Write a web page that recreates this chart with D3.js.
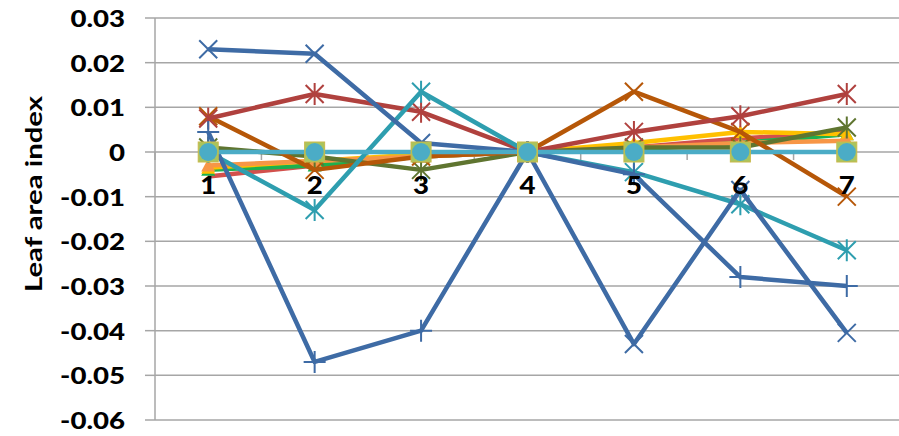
<!DOCTYPE html>
<html><head><meta charset="utf-8">
<script src="https://cdn.jsdelivr.net/npm/d3@7"></script>
<style>
body{margin:0;background:#fff;}
text{font-family:"Lato","Liberation Sans",sans-serif;font-weight:bold;fill:#000;}
</style></head>
<body><svg id="chart" width="899" height="436"></svg>
<script>
const categories = ["1","2","3","4","5","6","7"];
const yTicks = [0.03,0.02,0.01,0,-0.01,-0.02,-0.03,-0.04,-0.05,-0.06];
const yTickLabels = ["0.03","0.02","0.01","0","-0.01","-0.02","-0.03","-0.04","-0.05","-0.06"];
const yTitle = "Leaf area index";

const sRed2   = [-0.0055,-0.003,-0.001,0,0.001,0.003,0.0045];
const sGreen  = [-0.004,-0.003,-0.001,0,0.0005,0.002,0.004];
const sYellow = [-0.0035,-0.002,-0.0005,0,0.002,0.0045,0.004];
const sOrange = [-0.003,-0.002,-0.001,0,0.001,0.002,0.0025];
const sOlive  = [0.001,-0.001,-0.004,0,0.001,0.001,0.0055];
const sBrown  = [0.008,-0.004,-0.001,0,0.0135,0.0045,-0.010];
const sRed    = [0.0075,0.013,0.009,0,0.0045,0.008,0.013];
const sTeal   = [0.0,-0.013,0.0135,0,-0.0045,-0.0117,-0.022];
const sBluePlus = [0.0045,-0.047,-0.040,0,-0.005,-0.028,-0.030];
const sBlueX  = [0.023,0.022,0.002,0,-0.043,-0.0085,-0.0405];
const sCyan   = [0,0,0,0,0,0,0];

const series = [
  {v:sRed2, color:"#D2504C", marker:"none"},
  {v:sGreen, color:"#1DB04F", marker:"triangle"},
  {v:sYellow, color:"#FFC000", marker:"triangle"},
  {v:sOrange, color:"#F79646", marker:"triangle"},
  {v:sOlive, color:"#5F7530", marker:"asterisk"},
  {v:sBrown, color:"#B65708", marker:"x"},
  {v:sRed, color:"#B0413E", marker:"asterisk"},
  {v:sTeal, color:"#2E9EAF", marker:"asterisk"},
  {v:sBluePlus, color:"#3E6BA5", marker:"plus"},
  {v:sBlueX, color:"#3E6BA5", marker:"x"},
  {v:sCyan, color:"#4BACC6", marker:"circle"}
];

const svg = d3.select("#chart");
const L = 155, R = 900, T = 18, B = 420;
const x = d3.scaleBand().domain(categories).range([L,R]).padding(0);
const y = d3.scaleLinear().domain([-0.06,0.03]).range([B,T]);
const cx = c => x(c) + x.bandwidth()/2;

// gridlines
svg.append("g").selectAll("line").data(yTicks).join("line")
  .attr("x1",L).attr("x2",R).attr("y1",d=>y(d)).attr("y2",d=>y(d))
  .attr("stroke","#A6A6A6").attr("stroke-width",1.5);
// y axis
svg.append("line").attr("x1",L).attr("x2",L).attr("y1",T).attr("y2",B)
  .attr("stroke","#A6A6A6").attr("stroke-width",1.5);
svg.append("g").selectAll("line").data(yTicks).join("line")
  .attr("x1",L-10).attr("x2",L).attr("y1",d=>y(d)).attr("y2",d=>y(d))
  .attr("stroke","#A6A6A6").attr("stroke-width",1.5);
// x ticks on zero line
const bounds = d3.range(categories.length+1).map(i=>L+i*x.bandwidth());
svg.append("g").selectAll("line").data(bounds).join("line")
  .attr("x1",d=>d).attr("x2",d=>d).attr("y1",y(0)).attr("y2",y(0)+8)
  .attr("stroke","#A6A6A6").attr("stroke-width",1.5);

// y tick labels
svg.append("g").selectAll("text").data(yTicks).join("text")
  .attr("transform",d=>`translate(125,${y(d)}) scale(1.2,1)`)
  .attr("text-anchor","end").attr("dominant-baseline","central")
  .style("font-size","23px").style("font-weight","900").text((d,i)=>yTickLabels[i]);
// y title
svg.append("text").attr("transform",`translate(33,194) rotate(-90)`)
  .attr("text-anchor","middle").attr("dominant-baseline","central")
  .attr("textLength",196).attr("lengthAdjust","spacingAndGlyphs")
  .style("font-size","23px").text(yTitle);

// lines
const line = d3.line().x((d,i)=>cx(categories[i])).y(d=>y(d));
const gS = svg.append("g");
series.forEach(s=>{
  const g = gS.append("g");
  g.append("path").attr("d",line(s.v)).attr("fill","none")
    .attr("stroke",s.color).attr("stroke-width",4.5).attr("stroke-linejoin","round");
  s.v.forEach((v,i)=>{
    const px = cx(categories[i]), py = y(v), r = 9;
    const m = g.append("g").attr("transform",`translate(${px},${py})`);
    if(s.marker==="x"||s.marker==="asterisk"){
      m.append("path").attr("d",`M${-r},${-r}L${r},${r}M${-r},${r}L${r},${-r}`+(s.marker==="asterisk"?`M0,${-r-2}L0,${r+2}`:""))
        .attr("stroke",s.color).attr("stroke-width",2);
    } else if(s.marker==="plus"){
      m.append("path").attr("d",`M${-r-2},0L${r+2},0M0,${-r-2}L0,${r+2}`)
        .attr("stroke",s.color).attr("stroke-width",2);
    } else if(s.marker==="triangle"){
      m.append("path").attr("d",`M0,${-7}L7,6L-7,6Z`).attr("fill",s.color);
    } else if(s.marker==="circle"){
      m.append("rect").attr("x",-10).attr("y",-10).attr("width",20).attr("height",20)
        .attr("fill","#A9C45E").attr("stroke","#C9B94A").attr("stroke-width",1);
      m.append("circle").attr("r",9).attr("fill",s.color);
    }
  });
});

// category labels
svg.append("g").selectAll("text").data(categories).join("text")
  .attr("transform",d=>`translate(${cx(d)},${y(0)+42}) scale(1.15,1)`)
  .attr("text-anchor","middle").style("font-size","24px").style("font-weight","900").text(d=>d);
</script></body></html>
